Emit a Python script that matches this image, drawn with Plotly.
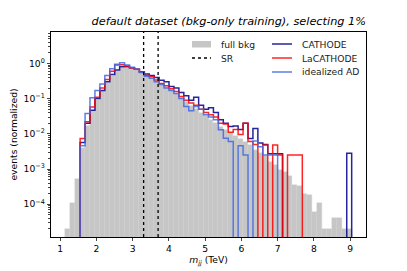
import numpy as np
import plotly.graph_objects as go

# bin edges (TeV)
edges = np.linspace(1.14, 9.04, 59)

full_bkg = [2e-5, 1.1e-4, 5.2e-4, 4e-3, 0.017, 0.045, 0.09, 0.16, 0.28, 0.45,
            0.62, 0.75, 0.80, 0.76, 0.68, 0.58, 0.45, 0.37, 0.32, 0.26,
            0.21, 0.17, 0.135, 0.105, 0.08, 0.063, 0.05, 0.04, 0.032, 0.025,
            0.02, 0.016, 0.013, 0.0105, 0.0085, 0.007, 0.0057, 0.0048, 0.0035, 0.0028,
            0.0023, 0.0016, 0.0013, 9.5e-4, 8e-4, 6.5e-4, 3.5e-4, 3.2e-4, 2e-4, 1.8e-4,
            6e-5, 1.05e-4, 2e-5, 2e-5, 4e-5, 4e-5, 2e-5, 2e-5]

cathode = [0, 0, 0, 0.0057, 0.02, 0.047, 0.1, 0.17, 0.3, 0.48,
           0.65, 0.8, 0.82, 0.75, 0.68, 0.58, 0.5, 0.45, 0.4, 0.33,
           0.3, 0.22, 0.2, 0.15, 0.12, 0.09, 0.11, 0.065, 0.05, 0.055,
           0.04, 0.025, 0.02, 0.016, 0.0166, 0.0133, 0.02, 0.0074, 0.0142, 0.0055,
           0.005, 0.0027, 0.0027, 0.0027, 0, 0, 0, 0, 0, 0,
           0, 0, 0, 0, 0, 0, 0, 0.0028]

lacathode = [0, 0, 0, 0.0074, 0.022, 0.058, 0.11, 0.2, 0.35, 0.6,
             0.9, 0.92, 0.85, 0.75, 0.68, 0.58, 0.46, 0.42, 0.34, 0.27,
             0.23, 0.19, 0.16, 0.115, 0.09, 0.075, 0.065, 0.05, 0.04, 0.035,
             0.03, 0.02, 0.019, 0.011, 0.0133, 0.0095, 0.02, 0.006, 0.005, 0,
             0.0048, 0, 0.0048, 0.0025, 0, 0.0025, 0.0025, 0.0025, 0, 0,
             0, 0, 0, 0, 0, 0, 0, 0]

idealized = [0, 0, 0, 0.0046, 0.038, 0.105, 0.17, 0.26, 0.45, 0.7,
             0.95, 1.05, 0.9, 0.78, 0.68, 0.55, 0.43, 0.38, 0.30, 0.25,
             0.20, 0.17, 0.14, 0.10, 0.06, 0.045, 0.06, 0.05, 0.035, 0.03,
             0.025, 0.013, 0.0075, 0.006, 0, 0.0046, 0.0025, 0, 0.0062, 0.0043,
             0.0025, 0.0025, 0.0025, 0, 0, 0, 0, 0, 0, 0,
             0, 0, 0, 0, 0, 0, 0, 0]

sr_bounds = [3.3, 3.7]
ytick_vals = [1e-4, 1e-3, 1e-2, 1e-1, 1]
ytick_text = ["10<sup>\u22124</sup>", "10<sup>\u22123</sup>", "10<sup>\u22122</sup>",
              "10<sup>\u22121</sup>", "10<sup>0</sup>"]

series = [(cathode, "CATHODE", "#00008b"),
          (lacathode, "LaCATHODE", "#ff0000"),
          (idealized, "idealized AD", "#4169e1")]

# the page body has an 8px margin; the figure is sized/placed so the plot
# area lands at page pixels x 51..366, y 32..237
OFF = 8
W, H = 407 - OFF, 271 - OFF
L, T = 51 - OFF, 32 - OFF
PW, PH = 315, 205
R, B = W - L - PW, H - T - PH


def px2paper(px, py):
    return (px - OFF - L) / PW, (T + PH - (py - OFF)) / PH


centers = 0.5 * (edges[:-1] + edges[1:])
widths = np.diff(edges)
TINY = 1e-9


def step_xy(vals):
    v = [x if x > 0 else TINY for x in vals]
    xs = [edges[0]] + list(edges[:-1]) + [edges[-1], edges[-1]]
    ys = [TINY] + v + [v[-1], TINY]
    return xs, ys


fig = go.Figure()
fig.add_trace(go.Bar(x=centers, y=full_bkg, width=widths, name="full bkg",
                     marker=dict(color="#c6c6c6", line=dict(color="#d2d2d2", width=0.4)),
                     showlegend=False))

for vals, name, col in series:
    xs, ys = step_xy(vals)
    fig.add_trace(go.Scatter(x=xs, y=ys, mode="lines", name=name,
                             line=dict(color=col, width=1.5, shape="hv"),
                             opacity=0.85, showlegend=False))

for b in sr_bounds:
    fig.add_shape(type="line", x0=b, x1=b, y0=0, y1=1, xref="x", yref="y domain",
                  line=dict(color="black", dash="dot", width=1.3))

# legend (drawn manually to match the two-column layout)
leg_font = dict(family="DejaVu Sans", size=9.2, color="#222222")
x0, y0 = px2paper(192, 41)
x1, y1 = px2paper(211, 47.5)
fig.add_shape(type="rect", xref="paper", yref="paper", x0=x0, x1=x1, y0=y1, y1=y0,
              fillcolor="#c6c6c6", line=dict(width=0))
fig.add_annotation(text="full bkg", xref="paper", yref="paper",
                   x=px2paper(219, 0)[0], y=px2paper(0, 44)[1],
                   xanchor="left", yanchor="middle", showarrow=False, font=leg_font)
xa, ya = px2paper(192, 58)
xb, _ = px2paper(211, 58)
fig.add_shape(type="line", xref="paper", yref="paper", x0=xa, x1=xb, y0=ya, y1=ya,
              line=dict(color="black", dash="dot", width=1.3))
fig.add_annotation(text="SR", xref="paper", yref="paper",
                   x=px2paper(219, 0)[0], y=ya,
                   xanchor="left", yanchor="middle", showarrow=False, font=leg_font)
for i, (vals, name, col) in enumerate(series):
    py = 44 + 14 * i
    xa, ya = px2paper(272, py)
    xb, _ = px2paper(292, py)
    fig.add_shape(type="line", xref="paper", yref="paper", x0=xa, x1=xb, y0=ya, y1=ya,
                  line=dict(color=col, width=1.5), opacity=0.85)
    fig.add_annotation(text=name, xref="paper", yref="paper",
                       x=px2paper(300, 0)[0], y=ya,
                       xanchor="left", yanchor="middle", showarrow=False, font=leg_font)

minor_vals = [m * 10.0 ** e for e in range(-6, 1) for m in range(2, 10)]

fig.update_layout(
    width=W, height=H,
    margin=dict(l=L, r=R, t=T, b=B, autoexpand=False),
    paper_bgcolor="white", plot_bgcolor="white",
    font=dict(family="DejaVu Sans", size=9.2, color="black"),
    bargap=0,
    showlegend=False,
    title=dict(text="<i>default dataset (bkg-only training), selecting 1%</i>",
               x=(366 - OFF) / W, xanchor="right", xref="container",
               y=1 - (21 - OFF) / H, yanchor="middle",
               yref="container", font=dict(size=11.3, color="black")),
    xaxis=dict(range=[0.745, 9.435], dtick=1, tick0=1, showgrid=False, zeroline=False,
               showline=True, linecolor="black", linewidth=0.8, mirror=True,
               ticks="outside", ticklen=3.5, tickwidth=0.8, automargin=False,
               title=dict(text="<i>m</i><sub><i>jj</i></sub> (TeV)", standoff=0,
                          font=dict(size=9.2))),
    yaxis=dict(type="log", range=[np.log10(1.17e-5), np.log10(7.8)], showgrid=False,
               zeroline=False, showline=True, linecolor="black", linewidth=0.8, mirror=True,
               ticks="outside", ticklen=3.5, tickwidth=0.8, automargin=False,
               tickvals=ytick_vals, ticktext=ytick_text,
               minor=dict(tickvals=minor_vals, ticks="outside", ticklen=2, tickwidth=0.6,
                          showgrid=False),
               title=dict(text="events (normalized)", standoff=5, font=dict(size=9.2))),
)

fig.write_html("out.html")
